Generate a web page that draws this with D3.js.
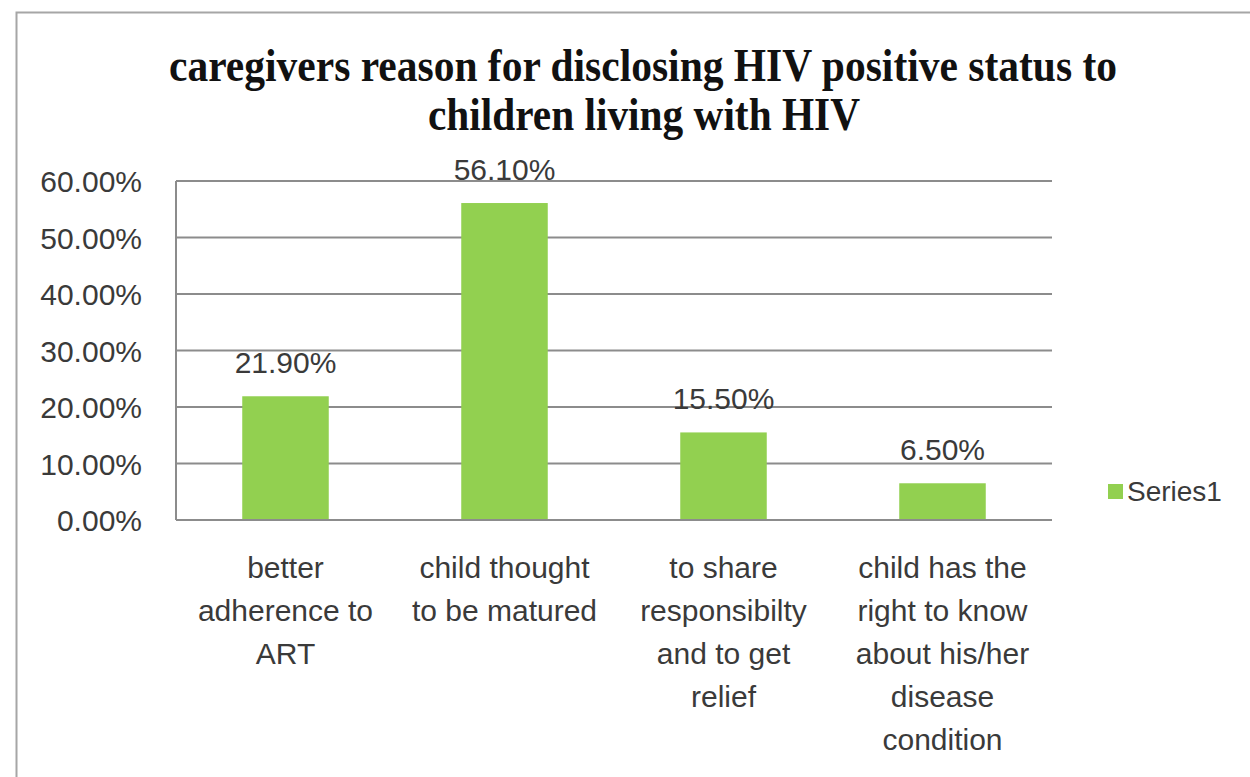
<!DOCTYPE html>
<html>
<head>
<meta charset="utf-8">
<script src="https://cdn.jsdelivr.net/npm/d3@7"></script>
<style>
  html, body { margin: 0; padding: 0; background: #fff; }
  svg { display: block; }
</style>
</head>
<body>
<svg id="chart" width="1250" height="777"></svg>
<script>
const categories = [
  ["better", "adherence to", "ART"],
  ["child thought", "to be matured"],
  ["to share", "responsibilty", "and to get", "relief"],
  ["child has the", "right to know", "about his/her", "disease", "condition"]
];
const values = [0.219, 0.561, 0.155, 0.065];
const valueLabels = ["21.90%", "56.10%", "15.50%", "6.50%"];
const yTicks = [0, 0.1, 0.2, 0.3, 0.4, 0.5, 0.6];
const titleLines = ["caregivers reason for disclosing HIV positive status to", "children living with HIV"];
const seriesName = "Series1";

(function () {
const svg = d3.select("#chart");
const plotLeft = 176, plotRight = 1052, plotTop = 181, plotBottom = 520;
const green = "#92D050";
const textColor = "#3a3a3a";
const font = "'Liberation Sans', Arial, sans-serif";

// outer border
svg.append("rect").attr("x", 16.5).attr("y", 12.5).attr("width", 1300).attr("height", 900)
  .attr("fill", "#fff").attr("stroke", "#a6a6a6").attr("stroke-width", 2);

// title
const titleG = svg.append("g");
titleG.append("text").attr("x", 643).attr("y", 81).attr("text-anchor", "middle")
  .attr("font-family", "'Liberation Serif', 'Times New Roman', serif").attr("font-weight", "bold")
  .attr("font-size", 47).attr("fill", "#111")
  .attr("textLength", 948).attr("lengthAdjust", "spacingAndGlyphs").text(titleLines[0]);
titleG.append("text").attr("x", 644).attr("y", 130).attr("text-anchor", "middle")
  .attr("font-family", "'Liberation Serif', 'Times New Roman', serif").attr("font-weight", "bold")
  .attr("font-size", 47).attr("fill", "#111")
  .attr("textLength", 432).attr("lengthAdjust", "spacingAndGlyphs").text(titleLines[1]);

const x = d3.scaleBand().domain(d3.range(values.length)).range([plotLeft, plotRight]).paddingInner(0).paddingOuter(0);
const y = d3.scaleLinear().domain([0, 0.6]).range([plotBottom, plotTop]);
const barW = x.bandwidth() * 0.395;

// gridlines
svg.append("g").selectAll("line").data(yTicks).join("line")
  .attr("x1", plotLeft).attr("x2", plotRight)
  .attr("y1", d => y(d)).attr("y2", d => y(d))
  .attr("stroke", "#8c8c8c").attr("stroke-width", 2);

// y axis line
svg.append("line").attr("x1", plotLeft).attr("x2", plotLeft).attr("y1", plotTop).attr("y2", plotBottom)
  .attr("stroke", "#8c8c8c").attr("stroke-width", 2);

// y tick labels
const yAxis = d3.axisLeft(y).tickValues(yTicks).tickSize(0).tickPadding(0)
  .tickFormat(d => (d * 100).toFixed(2) + "%");
const yg = svg.append("g").attr("transform", "translate(142,0)").call(yAxis);
yg.select(".domain").remove();
yg.selectAll("text").attr("font-family", font).attr("font-size", 30).attr("fill", textColor)
  .attr("dy", "0.36em");

// bars
svg.append("g").selectAll("rect").data(values).join("rect")
  .attr("x", (d, i) => x(i) + (x.bandwidth() - barW) / 2)
  .attr("width", barW)
  .attr("y", d => y(d))
  .attr("height", d => y(0) - y(d))
  .attr("fill", green);

// baseline on top
svg.append("line").attr("x1", plotLeft).attr("x2", plotRight).attr("y1", y(0)).attr("y2", y(0))
  .attr("stroke", "#8c8c8c").attr("stroke-width", 2);

// value labels
svg.append("g").selectAll("text").data(values).join("text")
  .attr("x", (d, i) => x(i) + x.bandwidth() / 2)
  .attr("y", d => y(d) - 23)
  .attr("text-anchor", "middle")
  .attr("font-family", font).attr("font-size", 30).attr("fill", textColor)
  .text((d, i) => valueLabels[i]);

// category labels
const cg = svg.append("g");
categories.forEach((lines, i) => {
  const cx = x(i) + x.bandwidth() / 2;
  const t = cg.append("text")
    .attr("text-anchor", "middle")
    .attr("font-family", font).attr("font-size", 30).attr("fill", textColor);
  lines.forEach((ln, j) => {
    t.append("tspan").attr("x", cx).attr("y", 578 + j * 43).text(ln);
  });
});

// legend
svg.append("rect").attr("x", 1108).attr("y", 484).attr("width", 15).attr("height", 15).attr("fill", green);
svg.append("text").attr("x", 1127).attr("y", 501).attr("font-family", font).attr("font-size", 28)
  .attr("fill", textColor).text(seriesName);
})();
</script>
</body>
</html>
